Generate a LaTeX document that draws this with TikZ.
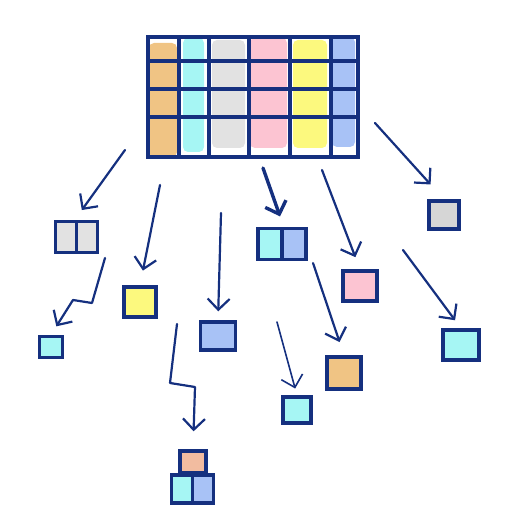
\documentclass[tikz,border=0pt]{standalone}
\usepackage{tikz}
\usetikzlibrary{arrows.meta}
\definecolor{ink}{HTML}{15307F}
\definecolor{corange}{HTML}{F0C484}
\definecolor{ccyan}{HTML}{A6F6F4}
\definecolor{cgray}{HTML}{E2E2E2}
\definecolor{cdgray}{HTML}{D6D6D6}
\definecolor{cpink}{HTML}{FCC4D2}
\definecolor{cyellow}{HTML}{FCF97E}
\definecolor{cblue}{HTML}{A8C2F6}
\definecolor{csalmon}{HTML}{F2BCA0}
\tikzstyle{arrow} = [draw=ink, line width=2.2pt, line cap=round, line join=round, -{Straight Barb[length=11pt,width=22pt]}, shorten >=10pt]
\tikzstyle{cell} = [draw=ink, line width=3.4pt, inner sep=0pt]
\tikzstyle{colfill} = [rounded corners=5pt]

\begin{document}
\begin{tikzpicture}[x=1pt, y=-1pt]
		\useasboundingbox (0,0) rectangle (528,510);
		% table columns
		\fill [corange, colfill] (149,43) rectangle (177,157);
		\fill [ccyan, colfill] (183,38) rectangle (204,152);
		\fill [cgray, colfill] (212,40) rectangle (245,148);
		\fill [cpink, colfill] (250,38) rectangle (287,148);
		\fill [cyellow, colfill] (293,40) rectangle (327,148);
		\fill [cblue, colfill] (332,37) rectangle (355,147);
		\foreach \x in {179,209,249,290,331}
			\draw [ink, line width=3.2pt] (\x,37) -- (\x,157);
		\foreach \y in {61,89,117}
			\draw [ink, line width=3.2pt] (148,\y) -- (358,\y);
		\node (table) [cell, minimum width=210pt, minimum height=120pt] at (253,97) {};
		% first level
		\node (gd1) [cell, fill=cgray, minimum width=21pt, minimum height=31pt] at (66,237) {};
		\node (gd2) [cell, fill=cgray, minimum width=21pt, minimum height=31pt] at (87,237) {};
		\node (yel) [cell, fill=cyellow, minimum width=32pt, minimum height=30pt] at (140,302) {};
		\node (blu) [cell, fill=cblue, minimum width=35pt, minimum height=28pt] at (218,336) {};
		\node (cb1) [cell, fill=ccyan, minimum width=24pt, minimum height=31pt] at (270,244) {};
		\node (cb2) [cell, fill=cblue, minimum width=24pt, minimum height=31pt] at (294,244) {};
		\node (pnk) [cell, fill=cpink, minimum width=34pt, minimum height=30pt] at (360,286) {};
		\node (gry) [cell, fill=cdgray, minimum width=30pt, minimum height=28pt] at (444,215) {};
		% second level
		\node (cyl) [cell, fill=ccyan, minimum width=23pt, minimum height=21pt] at (51,347) {};
		\node (sal) [cell, fill=csalmon, minimum width=26pt, minimum height=22pt] at (193,462) {};
		\node (sc1) [cell, fill=ccyan, minimum width=21pt, minimum height=28pt] at (182,489) {};
		\node (sc2) [cell, fill=cblue, minimum width=21pt, minimum height=28pt] at (203,489) {};
		\node (org) [cell, fill=corange, minimum width=34pt, minimum height=32pt] at (344,373) {};
		\node (cym) [cell, fill=ccyan, minimum width=28pt, minimum height=26pt] at (297,410) {};
		\node (cyr) [cell, fill=ccyan, minimum width=36pt, minimum height=30pt] at (461,345) {};
		% arrow starts
		\coordinate (s1) at (125,150);
		\coordinate (s2) at (160,185);
		\coordinate (s3) at (221,213);
		\coordinate (s4) at (263,168);
		\coordinate (s5) at (322,170);
		\coordinate (s6) at (375,123);
		\coordinate (s7) at (105,258);
		\coordinate (s8) at (177,324);
		\coordinate (s9) at (313,263);
		\coordinate (s10) at (277,322);
		\coordinate (s11) at (403,250);
		\draw [arrow, shorten >=12pt] (s1) -- (gd2.north west);
		\draw [arrow, shorten >=15pt] (s2) -- (yel.north);
		\draw [arrow, shorten >=9pt] (s3) -- (blu.north);
		\draw [arrow, line width=3.4pt, shorten >=11pt] (s4) -- (cb1.north east);
		\draw [arrow, shorten >=13pt] (s5) -- (pnk.north);
		\draw [arrow, shorten >=20pt] (s6) -- (gry.north);
		\draw [arrow] (s7) -- (92,303) -- (73,300) -- (cyl.north);
		\draw [arrow, shorten >=18pt] (s8) -- (170,383) -- (195,387) -- (sal.north);
		\draw [arrow, shorten >=14pt] (s9) -- (org.north);
		\draw [arrow, line width=1.6pt, shorten >=7pt] (s10) -- (cym.north);
		\draw [arrow] (s11) -- (cyr.north);
\end{tikzpicture}
\end{document}
